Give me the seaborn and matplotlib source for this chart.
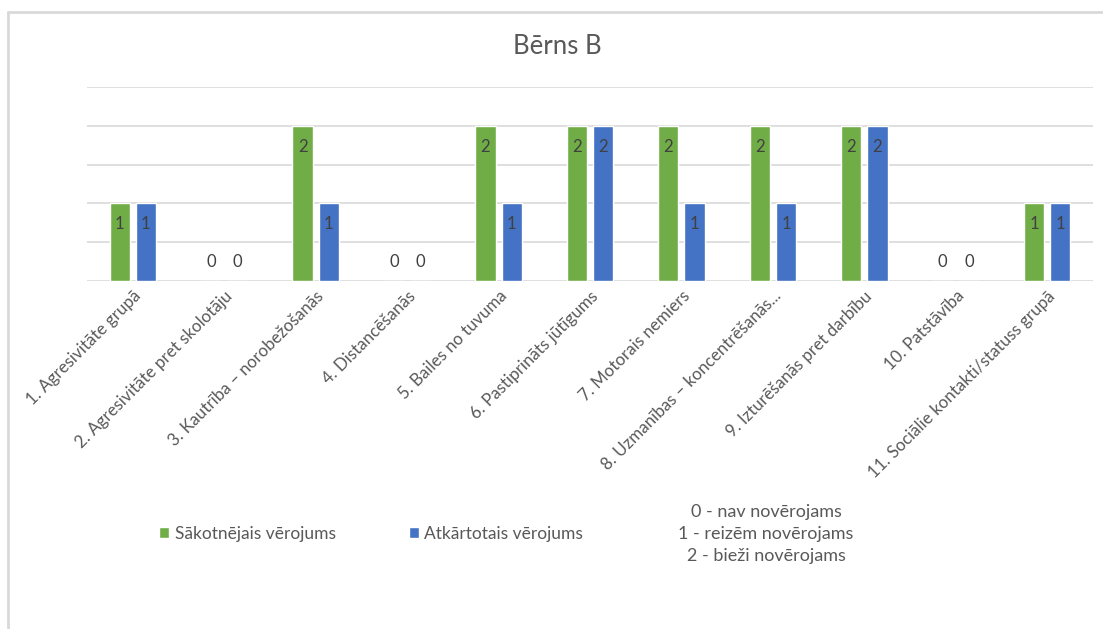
import matplotlib
matplotlib.use("Agg")
import matplotlib.pyplot as plt
from matplotlib.lines import Line2D
from matplotlib.patches import Patch
import pandas as pd
import seaborn as sns

categories = [
    "1. Agresivitāte grupā",
    "2. Agresivitāte pret skolotāju",
    "3. Kautrība – norobežošanās",
    "4. Distancēšanās",
    "5. Bailes no tuvuma",
    "6. Pastiprināts jūtīgums",
    "7. Motorais nemiers",
    "8. Uzmanības – koncentrēšanās...",
    "9. Izturēšanās pret darbību",
    "10. Patstāvība",
    "11. Sociālie kontakti/statuss grupā",
]
initial = [1, 0, 2, 0, 2, 2, 2, 2, 2, 0, 1]
repeated = [1, 0, 1, 0, 1, 2, 1, 1, 2, 0, 1]
series_names = ["Sākotnējais vērojums", "Atkārtotais vērojums"]
title = "Bērns B"
scale_note = "0 - nav novērojams\n1 - reizēm novērojams\n2 - bieži novērojams"

GREEN = "#70AD47"
BLUE = "#4472C4"
TEXT = "#595959"
GRID = "#D9D9D9"

df = pd.DataFrame({
    "kategorija": categories * 2,
    "vertejums": initial + repeated,
    "serija": [series_names[0]] * len(categories) + [series_names[1]] * len(categories),
})

sns.set_theme(style="white")
plt.rcParams["font.family"] = ["Lato", "DejaVu Sans"]

fig = plt.figure(figsize=(11.03, 6.29), dpi=100)
ax = fig.add_axes([87 / 1103, 1 - 281 / 629, (1093 - 87) / 1103, (281 - 87) / 629])

sns.barplot(
    data=df, x="kategorija", y="vertejums", hue="serija",
    palette=[GREEN, BLUE], width=0.572, gap=0.23,
    ax=ax, legend=False, errorbar=None, saturation=1,
)

ax.set_ylim(0, 2.5)
ax.set_xlim(-0.5, len(categories) - 0.5)
ax.set_yticks([0, 0.5, 1, 1.5, 2, 2.5])
ax.set_yticklabels([])
ax.tick_params(axis="y", length=0)
ax.tick_params(axis="x", length=0, pad=5)
ax.grid(axis="y", color=GRID, linewidth=1.2)
ax.set_axisbelow(True)
for s in ax.spines.values():
    s.set_visible(False)
ax.set_xlabel("")
ax.set_ylabel("")
ax.set_xticks(range(len(categories)))
ax.set_xticklabels(categories, rotation=45, ha="right", rotation_mode="anchor",
                   color=TEXT, fontsize=12.2)

# value labels just inside the top of each bar
for container, values in zip(ax.containers, [initial, repeated]):
    for bar, v in zip(container, values):
        x = bar.get_x() + bar.get_width() / 2
        y = v - 0.27 if v > 0 else 0.24
        ax.text(x, y, f"{v}", ha="center", va="center", fontsize=12, color="#404040")

fig.text(0.505, 1 - 47 / 629, title, ha="center", va="center", fontsize=18.5, color=TEXT)

handles = [Patch(facecolor=GREEN), Patch(facecolor=BLUE)]
fig.legend(handles, series_names, loc="center", bbox_to_anchor=(371 / 1103, 1 - 534 / 629),
           ncol=2, frameon=False, handlelength=0.6, handleheight=0.6, handletextpad=0.3,
           columnspacing=4.2, prop={"size": 12.5}, labelcolor=TEXT)

fig.text(766 / 1103, 1 - 534 / 629, scale_note, ha="center", va="center",
         fontsize=13, color=TEXT, linespacing=1.5)

# chart frame edges
fig.add_artist(Line2D([8 / 1103, 1], [1 - 12 / 629] * 2, color=GRID, linewidth=2,
                      transform=fig.transFigure))
fig.add_artist(Line2D([8 / 1103] * 2, [0, 1 - 12 / 629], color=GRID, linewidth=2,
                      transform=fig.transFigure))

fig.savefig("out.png", dpi=100)
